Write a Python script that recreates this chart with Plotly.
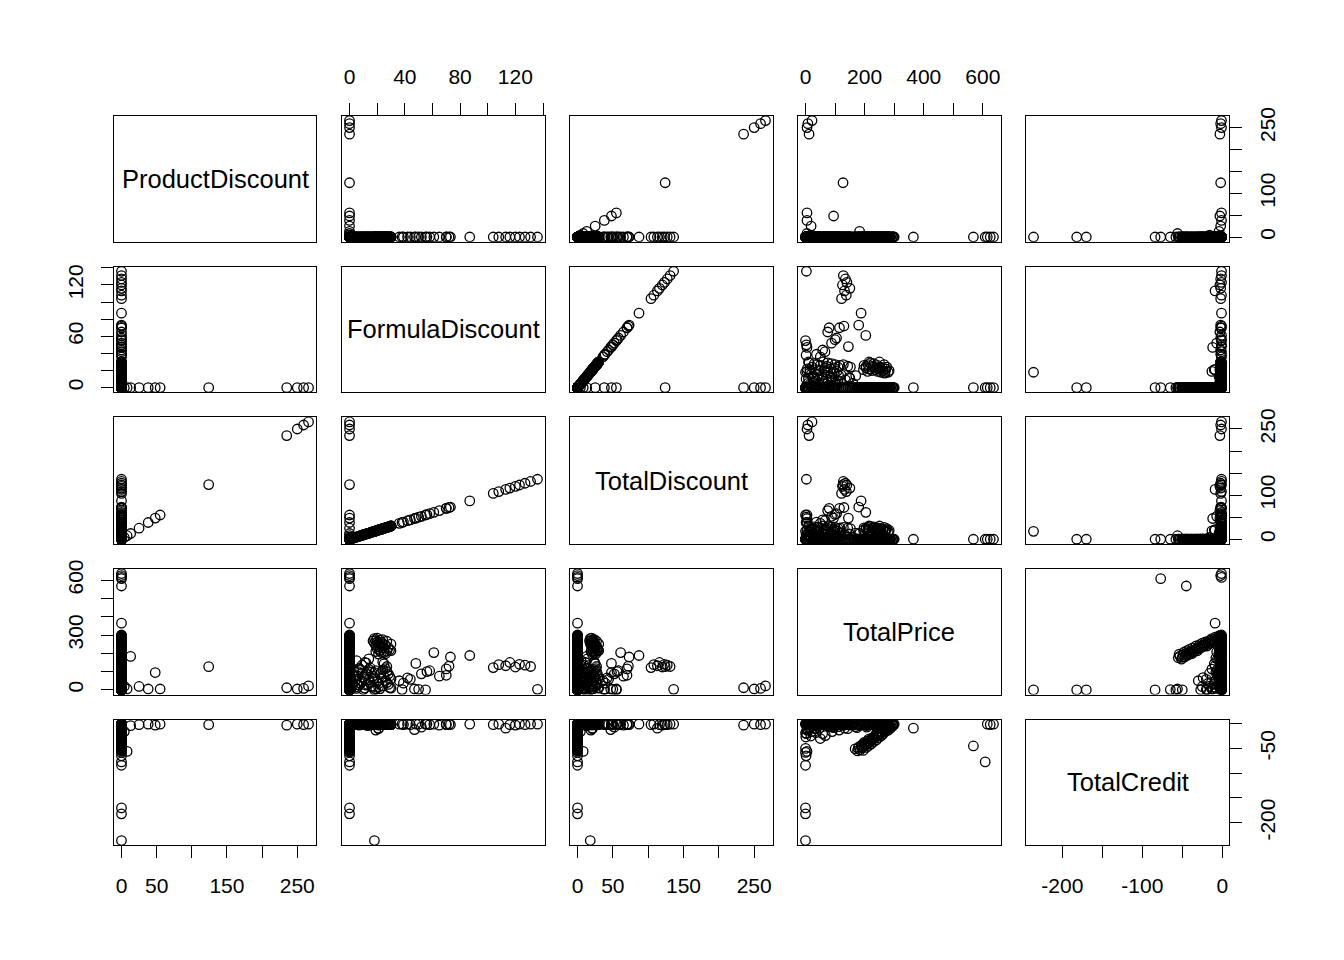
import plotly.graph_objects as go

# ---------------- data (one entry per observation) ----------------
# groups: P = product-discount rows, F/L/L2 = formula-discount rows,
# Z/Z2 = plain rows, S/S2 = credit streak rows, E = small credits, K = credit notes, H = high price rows
N_F, N_L, N_L2, N_Z, N_Z2, N_S, N_S2, N_E, N_K, N_H = 28, 47, 51, 25, 30, 28, 26, 11, 8, 6

pd_P = [266, 259, 250, 235, 124, 55, 48, 38, 25, 13, 8, 4]
fd_F = [136, 131, 127, 123, 120, 116, 113, 108, 104,
        87, 73, 72, 70, 70, 65, 61, 58, 56, 55,
        52, 50, 48, 47, 44, 42, 39, 38, 36]
fd_L = [18, 19, 20, 21, 22, 23, 24, 20, 22, 25, 26, 30, 30,
        11, 24, 25, 12,
        1, 2, 3, 4, 5, 6, 7, 8, 9, 10,
        11, 12, 13, 14, 15, 16, 17, 18, 19, 18,
        21, 22, 23, 24, 21, 26, 27, 28, 29, 30]
fd_L2 = [17, 18, 19, 20, 21, 22, 23, 24, 25, 26, 27, 28, 29, 19, 21, 23, 27, 24,
         1, 2, 3, 4, 5, 6, 7, 8, 9, 10, 11, 12, 13, 14, 15, 16, 17, 18, 19, 20,
         22, 23, 24, 25, 26, 27, 28, 29, 30,
         5, 9, 14, 27]

product_discount = pd_P + [0] * (N_F + N_L + N_L2 + N_Z + N_Z2 + N_S + N_S2 + N_E + N_K + N_H)
formula_discount = [0] * 12 + fd_F + fd_L + fd_L2 + [0] * (N_Z + N_Z2 + N_S + N_S2 + N_E + N_K + N_H)
total_discount = pd_P + fd_F + fd_L + fd_L2 + [0] * (N_Z + N_Z2 + N_S + N_S2 + N_E + N_K + N_H)

total_price = ([22, 8, 5, 12, 127, 5, 95, 5, 19, 183, 5, 20]
               + [3, 128, 135, 140, 125, 150, 132, 138, 122,
                  188, 180, 130, 115, 80, 75, 204, 105, 100, 0,
                  88, 3, 145, 5, 58, 66, 37, 2, 50]
               + [280, 270, 262, 255, 248, 240, 232, 225, 215, 205, 198, 250, 215,
                  150, 152, 143, 148,
                  5, 40, 80, 15, 60, 100, 25, 110, 45, 70,
                  10, 90, 30, 55, 120, 20, 75, 95, 5, 0,
                  35, 85, 65, 110, 15, 50, 100, 30, 75, 10]
               + [268, 255, 244, 283, 236, 272, 261, 252, 228, 244, 266, 231, 220, 210, 196, 205, 212, 275,
                  62, 18, 104, 48, 8, 76, 118, 36, 92, 2, 58, 26, 84, 112, 40, 98, 14, 66, 106, 44,
                  6, 96, 22, 72, 116, 40, 88, 12, 60,
                  160, 135, 170, 128]
               + [0, 12, 26, 37, 50, 63, 74, 88, 101, 112, 125, 137, 150,
                  163, 174, 188, 200, 213, 224, 238, 250, 261, 276, 288, 298]
               + [5, 18, 31, 44, 56, 69, 81, 94, 106, 119, 131, 144, 156, 169, 181,
                  194, 206, 219, 231, 244, 256, 269, 281, 294, 8, 47, 96, 143, 207, 263]
               + [176, 185, 178, 192, 188, 198, 205, 200, 212, 218, 210, 226, 232,
                  225, 240, 246, 238, 254, 258, 250, 266, 272, 262, 280, 286, 278, 294, 300]
               + [195, 168, 206, 180, 215, 190, 222, 198, 230, 222, 240, 214, 248,
                  230, 256, 244, 262, 240, 270, 256, 280, 268, 288, 272, 296, 284]
               + [114, 18, 50, 67, 3, 30, 80, 35, 90, 8, 58]
               + [0, 0, 0, 2, 0, 0, 1, 0]
               + [636, 625, 615, 608, 568, 365])

total_credit = ([-1, -2, -1, -3, -2, -1, -3, -1, -2, -4, -56, -16]
                + [-1, -1, -2, -1, -3, -2, -9, -1, -2,
                   -1, -2, -1, -2, -1, -3, -1, -2, -1, -1,
                   -7, -1, -1, -12, -2, -1, -2, -1, -1]
                + [-1, -2, -1, -3, -1, -2, -1, -2, -1, -2, -1, -2, -1,
                   -1, -2, -1, -2,
                   -1, -2, -1, -1, -2, -1, -3, -1, -2, -1,
                   -2, -1, -4, -1, -2, -1, -2, -1, -13, -236,
                   -10, -1, -2, -1, -9, -1, -2, -1, -1, -2]
                + [-1, -2, -1, -1, -2, -1, -1, -2, -1, -1, -2, -1, -1, -2, -1, -1, -2, -1,
                   -1, -1, -2, -1, -1, -2, -1, -1, -2, -1, -1, -2, -1, -1, -3, -1, -2, -1, -1, -2,
                   -1, -1, -2, -1, -1, -2, -1, -1, -2,
                   -1, -1, -2, -1]
                + [-1, -3, -1, -5, -2, -1, -4, -2, -1, -6, -2, -1, -3,
                   -1, -8, -2, -1, -3, -1, -5, -2, -1, -3, -1, -2]
                + [-2, -1, -4, -1, -3, -2, -1, -5, -2, -1, -3, -1, -2, -6, -1,
                   -2, -4, -1, -2, -3, -1, -2, -5, -1, -7, -9, -8, -10, -7, -9]
                + [-55, -53, -50, -49, -46, -45, -42, -40, -39, -36, -35, -32, -30,
                   -29, -26, -24, -23, -20, -18, -17, -14, -12, -11, -8, -6, -5, -3, -1]
                + [-54, -51, -48, -47, -44, -43, -41, -38, -37, -34, -33, -31, -28,
                   -27, -25, -22, -21, -19, -16, -15, -13, -10, -9, -7, -4, -3]
                + [-13, -25, -30, -24, -20, -10, -6, -18, -16, -12, -20]
                + [-182, -170, -84, -65, -58, -50, -27, -19]
                + [-1, -2, -1, -77, -45, -9])

var_names = ["ProductDiscount", "FormulaDiscount", "TotalDiscount", "TotalPrice", "TotalCredit"]
variables = [product_discount, formula_discount, total_discount, total_price, total_credit]

# axis ticks (values, labels shown)
tick_vals = [
    [0, 50, 100, 150, 200, 250],
    [0, 20, 40, 60, 80, 100, 120, 140],
    [0, 50, 100, 150, 200, 250],
    [0, 100, 200, 300, 400, 500, 600],
    [-200, -150, -100, -50, 0],
]
x_tick_text = [
    ["0", "50", "", "150", "", "250"],
    ["0", "", "40", "", "80", "", "120", ""],
    ["0", "50", "", "150", "", "250"],
    ["0", "", "200", "", "400", "", "600"],
    ["-200", "", "-100", "", "0"],
]
y_tick_text = [
    ["0", "", "100", "", "", "250"],
    ["0", "", "", "60", "", "", "120", ""],
    ["0", "", "100", "", "", "250"],
    ["0", "", "", "300", "", "", "600"],
    ["-200", "", "", "-50", ""],
]

# ---------------- layout geometry (target pixels on the page) ----------------
W, H = 1344, 960
col_px = [(114, 316), (342, 545), (570, 773), (798, 1001), (1026, 1229)]
row_px = [(114, 240), (265, 391), (416, 543), (568, 694), (719, 845)]
OFF_X = 8.0
OFF_Y, SCALE_Y = 14.8, 0.993

FONT = "Liberation Sans, Arial, sans-serif"


def fx(px):
    return (px - OFF_X) / W


def fy(py):
    return 1 - ((py - OFF_Y) / SCALE_Y) / H


def padded(vals):
    lo, hi = min(vals), max(vals)
    p = 0.04 * (hi - lo)
    return [lo - p, hi + p]


ranges = [padded(v) for v in variables]

fig = go.Figure()
layout = dict(
    width=W, height=H,
    margin=dict(l=0, r=0, t=0, b=0),
    paper_bgcolor="white", plot_bgcolor="white",
    showlegend=False,
    font=dict(family=FONT, color="black"),
)
annotations = []

for i in range(5):
    for j in range(5):
        k = i * 5 + j + 1
        xname = "x" if k == 1 else f"x{k}"
        yname = "y" if k == 1 else f"y{k}"
        xkey = "xaxis" if k == 1 else f"xaxis{k}"
        ykey = "yaxis" if k == 1 else f"yaxis{k}"
        x0, x1 = col_px[j]
        y0, y1 = row_px[i]
        xa = dict(domain=[fx(x0), fx(x1)], range=ranges[j], anchor=yname,
                  showline=True, mirror=True, linecolor="black", linewidth=1.3,
                  showgrid=False, zeroline=False, fixedrange=True,
                  showticklabels=False, ticks="")
        ya = dict(domain=[fy(y1), fy(y0)], range=ranges[i], anchor=xname,
                  showline=True, mirror=True, linecolor="black", linewidth=1.3,
                  showgrid=False, zeroline=False, fixedrange=True,
                  showticklabels=False, ticks="")
        tick_common = dict(ticks="outside", ticklen=12, tickwidth=1.3, tickcolor="black",
                           showticklabels=True, tickmode="array",
                           tickfont=dict(family=FONT, size=21, color="black"))
        if i == 4 and j % 2 == 0:
            xa.update(tick_common, side="bottom", tickvals=tick_vals[j], ticktext=x_tick_text[j],
                      ticklabelstandoff=9)
        if i == 0 and j % 2 == 1:
            xa.update(tick_common, side="top", tickvals=tick_vals[j], ticktext=x_tick_text[j],
                      ticklabelstandoff=10)
        if j == 0 and i % 2 == 1:
            ya.update(tick_common, side="left", tickvals=tick_vals[i], ticktext=y_tick_text[i],
                      tickangle=-90, ticklabelstandoff=9)
        if j == 4 and i % 2 == 0:
            ya.update(tick_common, side="right", tickvals=tick_vals[i], ticktext=y_tick_text[i],
                      tickangle=-90, ticklabelstandoff=8)
        layout[xkey] = xa
        layout[ykey] = ya

        if i == j:
            annotations.append(dict(
                x=fx(0.5 * (x0 + x1)), y=fy(0.5 * (y0 + y1)),
                xref="paper", yref="paper", text=var_names[i], showarrow=False,
                font=dict(family=FONT, size=25.5, color="black"),
                xanchor="center", yanchor="middle"))
            # empty trace so the diagonal panel (box and axes) is drawn
            fig.add_trace(go.Scatter(x=[None], y=[None], mode="markers",
                                     xaxis=xname, yaxis=yname, hoverinfo="skip"))
        else:
            fig.add_trace(go.Scatter(
                x=variables[j], y=variables[i], mode="markers",
                xaxis=xname, yaxis=yname, hoverinfo="skip",
                marker=dict(symbol="circle-open", size=9.5, color="black",
                            line=dict(width=1.3, color="black"))))

layout["annotations"] = annotations
fig.update_layout(**layout)
fig.write_html("out.html")
